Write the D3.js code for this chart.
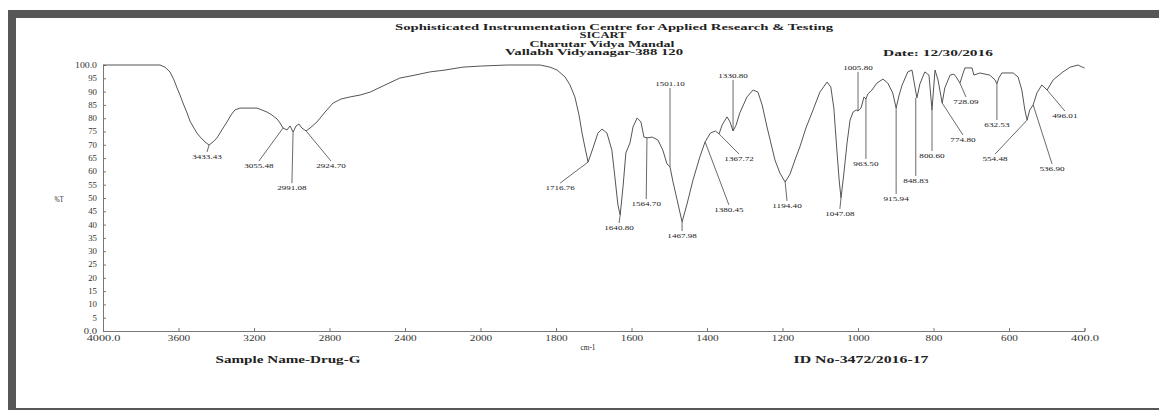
<!DOCTYPE html>
<html><head><meta charset="utf-8">
<script src="https://cdn.jsdelivr.net/npm/d3@7"></script>
<style>body{margin:0;background:#fff}svg{display:block}</style>
</head><body><svg id="c" width="1159" height="410"></svg>
<script>
// ---------- data ----------
const titleLines = ["Sophisticated Instrumentation Centre for Applied Research & Testing", "SICART", "Charutar Vidya Mandal", "Vallabh Vidyanagar-388 120"];
const dateText = "Date: 12/30/2016";
const sampleText = "Sample Name-Drug-G";
const idText = "ID No-3472/2016-17";
const yAxisTitle = "%T";
const xAxisTitle = "cm-1";

const xTickValues = [4000, 3600, 3200, 2800, 2400, 2000, 1800, 1600, 1400, 1200, 1000, 800, 600, 400];
const xTickLabels = ["4000.0", "3600", "3200", "2800", "2400", "2000", "1800", "1600", "1400", "1200", "1000", "800", "600", "400.0"];
const yTickValues = [0, 5, 10, 15, 20, 25, 30, 35, 40, 45, 50, 55, 60, 65, 70, 75, 80, 85, 90, 95, 100];
const yTickLabels = ["0.0", "5", "10", "15", "20", "25", "30", "35", "40", "45", "50", "55", "60", "65", "70", "75", "80", "85", "90", "95", "100.0"];

const specWn = [4000,3698,3672,3645,3624,3608,3592,3576,3555,3539,3518,3502,3481,3460,3438,3417,3396,3370,3343,3322,3301,3274,3221,3184,3158,3131,3105,3078,3062,3046,3025,3009,2993,2977,2962,2946,2924,2903,2866,2824,2781,2739,2691,2638,2585,2517,2427,2347,2268,2188,2093,2000,
1930,1842,1816,1797,1776,1763,1750,1739,1731,1723,1715,1702,1689,1678,1665,1652,1644,1636,1630,1622,1615,1604,1596,1585,1575,1567,1559,1545,1530,1517,1506,1498,1490,1479,1466,1453,1437,1419,1405,1391,1378,1368,1360,1347,1339,1331,1323,1313,1294,1278,1265,1254,1241,1220,1207,1193,1180,1167,1154,1138,1119,1101,1082,1072,1064,1056,1050,1045,1037,1029,1021,1013,1005,1000,992,984,979,974,963,950,934,921,908,899,891,883,868,857,849,844,836,823,812,804,796,788,777,770,756,746,738,730,717,698,693,677,651,637,632,627,619,589,576,566,558,552,545,536,526,513,499,483,457,438,417,406,400];
const specT = [100,100,99.2,97.4,94.4,91.4,88.7,85.7,82.0,78.9,76.3,74.4,72.6,71.1,69.9,71.1,72.6,75.6,78.6,81.2,83.1,83.8,83.8,83.8,83.1,82.3,81.2,79.7,78.2,76.3,75.6,77.1,74.8,77.1,77.8,76.3,75.2,76.3,78.6,82.3,85.7,87.2,88.0,88.7,89.8,92.1,95.1,96.2,97.4,98.1,99.2,99.6,
100,100,99.2,98.1,95.5,92.5,88.0,81.2,74.4,68.8,63.5,68.8,74.4,75.9,74.4,68.0,57.9,47.4,43.6,54.9,66.9,70.7,76.7,80.1,78.6,72.9,72.6,72.9,71.8,68.0,62.8,61.7,56.0,49.2,41.0,47.7,56.8,65.4,71.1,74.4,75.2,74.1,77.4,80.5,78.6,75.2,77.4,82.0,88.0,90.6,89.8,85.0,76.7,64.3,59.4,56.0,59.0,64.3,69.2,76.3,83.1,89.8,93.6,91.7,83.8,68.0,56.8,50.0,59.8,70.7,79.3,82.3,83.1,82.7,83.8,88.0,87.2,89.1,90.6,93.2,94.7,93.2,89.5,83.8,88.7,92.5,97.4,98.1,91.7,87.6,92.9,97.4,96.2,83.1,98.1,94.4,85.7,91.4,96.2,96.6,95.1,93.2,98.9,98.9,96.2,97.0,96.2,94.4,92.9,95.1,97.0,97.0,95.5,90.6,83.1,79.3,83.1,85.0,89.5,92.5,90.6,94.4,97.4,99.2,100,99.2,98.9];

// peak annotations: leader from (peakWn, peakT) to (endWn, endT), label at the end
const peakLabels = ["3433.43","3055.48","2991.08","2924.70","1716.76","1640.80","1564.70","1501.10","1467.98","1380.45","1367.72","1330.80","1194.40","1047.08","1005.80","963.50","915.94","848.83","800.60","774.80","728.09","632.53","554.48","536.90","496.01"];
const peakWn = [3438,3046,2993,2924,1715,1630,1559,1498,1466,1405,1368,1331,1193,1045,1000,979,899,847,804,777,730,632,552,536,499];
const peakT  = [69.9,76.3,74.8,75.2,63.5,43.6,72.6,61.7,41.0,71.1,74.1,75.2,56.0,50.0,82.7,87.2,83.8,87.6,83.1,85.7,93.2,92.9,79.3,85.0,90.6];
const endWn  = [3449,3174,2999,2792,1789,1633,1561,1498,1466,1342,1315,1331,1188,1048,1000,979,899,847,804,722,714,632,637,486,452];
const endT   = [67.3,63.9,55.6,63.9,55.6,40.6,49.6,91.4,37.6,47.4,66.5,94.4,48.9,45.9,97.4,64.7,51.5,58.3,67.7,73.7,88.0,79.3,66.5,62.8,82.7];

// ---------- drawing ----------
const svg = d3.select("#c");
const serif = "'Liberation Serif','Times New Roman',serif";

svg.append("rect").attr("width",1159).attr("height",410).attr("fill","#fff");
// frame
const frame = svg.append("g").attr("fill","#575757");
frame.append("rect").attr("x",8).attr("y",10).attr("width",1151).attr("height",8);
frame.append("rect").attr("x",8).attr("y",10).attr("width",8).attr("height",400);
frame.append("rect").attr("x",8).attr("y",408).attr("width",1151).attr("height",2);

const x = d3.scaleLinear().domain([4000, 2000, 400]).range([103, 480.5, 1084.5]);
const y = d3.scaleLinear().domain([0, 100]).range([331, 65]);

function stretchText(g, txt, cx, by, w, size, weight, anchor) {
  return g.append("text").attr("x", cx).attr("y", by)
    .attr("text-anchor", anchor || "middle")
    .attr("font-family", serif).attr("font-size", size).attr("font-weight", weight || "normal")
    .attr("fill", "#222")
    .attr("textLength", w).attr("lengthAdjust", "spacingAndGlyphs")
    .text(txt);
}

// header
const hdr = svg.append("g");
const hdrLayout = [[614, 30, 438], [603, 38.3, 47], [602, 46.6, 145], [594, 55, 178]];
titleLines.forEach((t, i) => stretchText(hdr, t, hdrLayout[i][0], hdrLayout[i][1], hdrLayout[i][2], 8, "bold"));
stretchText(hdr, dateText, 938, 56, 110, 9, "bold");

// axes
const xAxis = d3.axisBottom(x).tickValues(xTickValues).tickSize(-3)
  .tickFormat((d, i) => xTickLabels[i]);
const gx = svg.append("g").attr("transform", "translate(0,331)").call(xAxis);
gx.select(".domain").attr("stroke", "#777");
gx.selectAll(".tick line").attr("stroke", "#777");
gx.selectAll(".tick text").attr("font-family", serif).attr("font-size", 7.5).attr("fill", "#333")
  .attr("dy", 0).attr("y", 10)
  .each(function (d, i) { d3.select(this).attr("textLength", xTickLabels[i].length * 5.6).attr("lengthAdjust", "spacingAndGlyphs"); });

const yAxis = d3.axisLeft(y).tickValues(yTickValues).tickSize(-3)
  .tickFormat((d, i) => yTickLabels[i]);
const gy = svg.append("g").attr("transform", "translate(103,0)").call(yAxis);
gy.select(".domain").attr("stroke", "#777");
gy.selectAll(".tick line").attr("stroke", "#777");
gy.selectAll(".tick text").attr("font-family", serif).attr("font-size", 7.5).attr("fill", "#333")
  .attr("x", -6)
  .each(function (d, i) { d3.select(this).attr("textLength", yTickLabels[i].length * 4.4).attr("lengthAdjust", "spacingAndGlyphs"); });

stretchText(svg, yAxisTitle, 59, 202, 9, 7.5, "normal");
stretchText(svg, xAxisTitle, 588, 350, 15, 7.5, "normal");

// spectrum
const pts = specWn.map((w, i) => [w, specT[i]]);
svg.append("path").datum(pts)
  .attr("fill", "none").attr("stroke", "#555").attr("stroke-width", 1)
  .attr("d", d3.line().x(d => x(d[0])).y(d => y(d[1])));

// peak annotations
const pk = svg.append("g");
peakLabels.forEach((lab, i) => {
  const x0 = x(peakWn[i]), y0 = y(peakT[i]), x1 = x(endWn[i]), y1 = y(endT[i]);
  pk.append("line").attr("x1", x0).attr("y1", y0).attr("x2", x1).attr("y2", y1)
    .attr("stroke", "#444").attr("stroke-width", 0.8);
  const up = endT[i] > peakT[i];
  stretchText(pk, lab, x1, up ? y1 - 2 : y1 + 7, lab.length * 4.2, 7, "normal");
});

// footer
stretchText(svg, sampleText, 288, 363, 145, 9.5, "bold");
stretchText(svg, idText, 861, 363, 135, 9.5, "bold");
</script></body></html>
